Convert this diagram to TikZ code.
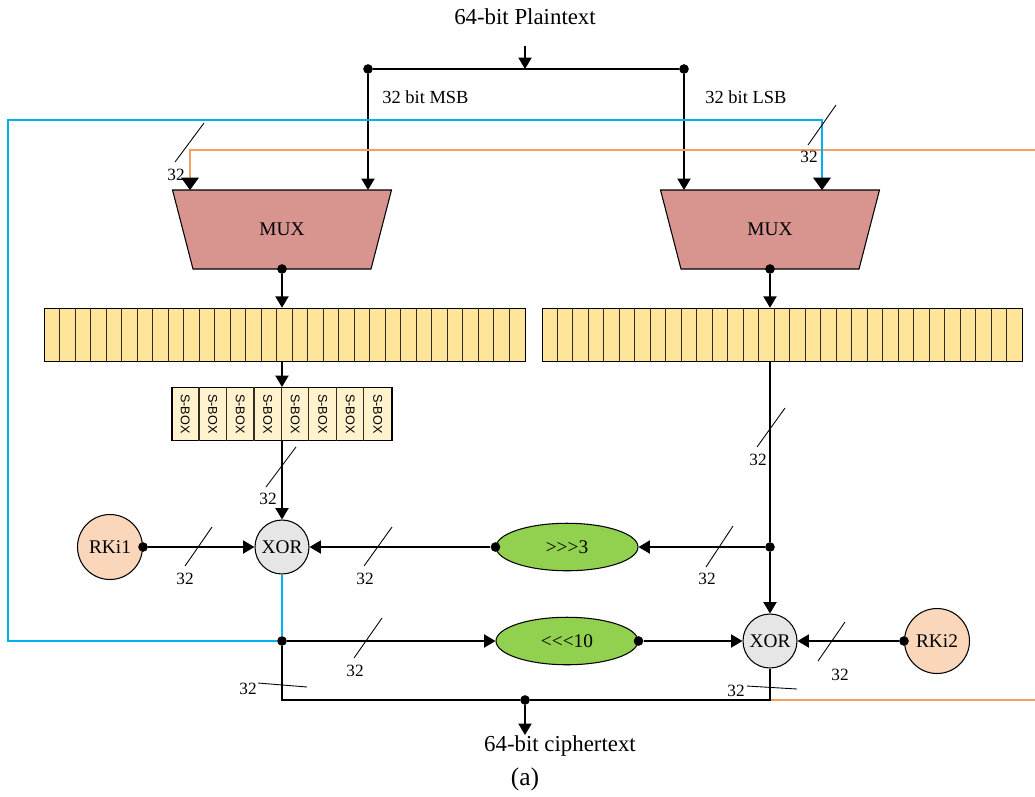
\documentclass[tikz,border=0pt]{standalone}
\usepackage{fontspec}
\setmainfont{Liberation Serif}
\newfontfamily\sboxfont{Liberation Sans}
\usetikzlibrary{shapes.geometric,arrows.meta}

\definecolor{muxred}{RGB}{216,148,143}
\definecolor{regyellow}{RGB}{255,229,153}
\definecolor{sboxyellow}{RGB}{255,242,204}
\definecolor{keypeach}{RGB}{250,215,186}
\definecolor{rotgreen}{RGB}{146,208,80}
\definecolor{xorgray}{RGB}{230,230,230}
\definecolor{fbblue}{RGB}{0,176,240}
\definecolor{fborange}{RGB}{244,160,96}
\definecolor{celldark}{RGB}{50,45,35}

\tikzset{
  sigline/.style={line width=0.8pt},
  wire/.style={sigline, -{Triangle[width=7.5pt,length=6.5pt]}},
  owire/.style={draw=fborange, line width=0.7pt, -{Triangle[width=10pt,length=7pt,color=black]}},
  oline/.style={draw=fborange, line width=0.7pt},
  bwire/.style={draw=fbblue, line width=0.8pt, -{Triangle[width=10pt,length=7pt,color=black]}},
  bline/.style={draw=fbblue, line width=0.8pt},
  junction/.style={circle, fill, inner sep=0pt, minimum size=5.5pt},
  title/.style={font=\fontsize{13}{15}\selectfont},
  lbl/.style={inner sep=0pt, font=\fontsize{10.5}{12}\selectfont},
  mux/.style={draw, line width=0.6pt, fill=muxred, trapezium, trapezium angle=68,
    shape border rotate=180, trapezium stretches=true, minimum width=4.39cm,
    minimum height=1.58cm, inner sep=0pt, font=\fontsize{11}{13}\selectfont},
  reg/.style={draw, line width=0.6pt, fill=regyellow, minimum width=9.62cm,
    minimum height=1.07cm, inner sep=0pt},
  celline/.style={draw=celldark, line width=0.6pt},
  sboxrow/.style={draw, line width=0.6pt, fill=sboxyellow, minimum width=4.4cm,
    minimum height=1.06cm, inner sep=0pt},
  sboxtxt/.style={rotate=-90, inner sep=0pt, font=\sboxfont\fontsize{7.2}{8}\selectfont},
  xorgate/.style={draw, line width=0.6pt, circle, fill=xorgray, minimum size=1.08cm,
    inner sep=0pt, font=\fontsize{11}{13}\selectfont},
  rkey/.style={draw, line width=0.6pt, circle, fill=keypeach, minimum size=1.3cm,
    inner sep=0pt, font=\fontsize{11}{13}\selectfont},
  rotbox/.style={draw, line width=0.6pt, ellipse, fill=rotgreen, minimum width=2.84cm,
    minimum height=0.95cm, inner sep=0pt, font=\fontsize{11}{13}\selectfont},
  busline/.style={line width=0.5pt},
  buslbl/.style={inner sep=0pt, font=\fontsize{9.8}{11}\selectfont}
}

\begin{document}
\begin{tikzpicture}[x=0.02cm, y=-0.02cm]
  \useasboundingbox (0,0) rectangle (1035,796);
  % nodes
  \node[title] (plain) at (525,17) {64-bit Plaintext};
  \coordinate (ptin) at (525,46);
  \coordinate (ptsplit) at (525,69);
  \node[junction] (sL) at (368,69) {};
  \node[junction] (sR) at (684,69) {};
  \node[lbl, anchor=west] (msb) at (382,97) {32 bit MSB};
  \node[lbl, anchor=west] (lsb) at (705,97) {32 bit LSB};
  \node[mux] (muxL) at (282,229.5) {MUX};
  \node[mux] (muxR) at (770,229.5) {MUX};
  \coordinate (muxLa) at (190,190);
  \coordinate (muxLb) at (368,190);
  \coordinate (muxRa) at (684,190);
  \coordinate (muxRb) at (822,190);
  \coordinate (orR) at (1035,150);
  \coordinate (fbL) at (8,120);
  \node[junction] (muxLo) at (282,269) {};
  \node[junction] (muxRo) at (770,269) {};
  \node[reg] (regL) at (285,335) {};
  \node[reg] (regR) at (782.5,335) {};
  \node[sboxrow] (sbrow) at (282,414) {};
  \node[xorgate] (xorL) at (282,547) {XOR};
  \node[rkey] (k1) at (110,547) {RKi1};
  \node[junction] (k1d) at (k1.east) {};
  \node[rotbox] (shr) at (567,547) {{>}{>}{>}3};
  \node[junction] (shrd) at (shr.west) {};
  \node[junction] (rdot) at (770,547) {};
  \node[junction] (fbdot) at (282,641) {};
  \node[rotbox] (shl) at (567,641) {{<}{<}{<}10};
  \node[junction] (shld) at (shl.east) {};
  \node[xorgate] (xorR) at (770,641) {XOR};
  \node[rkey] (k2) at (937,641) {RKi2};
  \node[junction] (k2d) at (k2.west) {};
  \node[junction] (cdot) at (525,700) {};
  \coordinate (orB) at (1035,700);
  \node[title, inner sep=0pt, anchor=north] (cipher) at (560,735) {64-bit ciphertext};
  \node[title, font=\fontsize{14.5}{17}\selectfont] (cap) at (525,779) {(a)};
  % register cells and s-boxes
  \foreach \i in {1,...,30} {
    \draw[celline] ([xshift=\i*0.3103cm]regL.north west) -- ([xshift=\i*0.3103cm]regL.south west);
    \draw[celline] ([xshift=\i*0.3103cm]regR.north west) -- ([xshift=\i*0.3103cm]regR.south west);
  }
  \foreach \i in {1,...,7}
    \draw[celline] ([xshift=\i*0.55cm]sbrow.north west) -- ([xshift=\i*0.55cm]sbrow.south west);
  \foreach \i in {1,...,8}
    \node[sboxtxt] (sb\i) at ([xshift=(\i-0.5)*0.55cm]sbrow.west) {S-BOX};
  % edges
  \draw[sigline] (sL) -- (sR);
  \draw[wire] (ptin) -- (ptsplit);
  \draw[wire] (sL) -- (muxLb);
  \draw[wire] (sR) -- (muxRa);
  \draw[owire] (orR) -| (muxLa);
  \draw[bline] (xorL) -- (fbdot);
  \draw[bwire] (fbdot) -| (fbL) -| (muxRb);
  \draw[wire] (muxLo) -- (regL.north -| muxLo);
  \draw[wire] (muxRo) -- (regR.north -| muxRo);
  \draw[wire] (regL.south -| sbrow.north) -- (sbrow.north);
  \draw[wire] (sbrow.south) -- (xorL);
  \draw[sigline] (regR.south -| rdot) -- (rdot);
  \draw[wire] (rdot) -- (shr);
  \draw[wire] (rdot) -- (xorR);
  \draw[wire] (shrd) -- (xorL);
  \draw[wire] (k1d) -- (xorL);
  \draw[wire] (fbdot) -- (shl);
  \draw[wire] (shld) -- (xorR);
  \draw[wire] (k2d) -- (xorR);
  \draw[oline] (xorR) |- (orB);
  \draw[sigline] (fbdot) |- (cdot) -| (xorR);
  \draw[wire] (cdot) -- (cdot |- cipher.north);
  % bus widths
  \foreach \ax/\ay/\bx/\by/\lx/\ly [count=\n] in {
      175/162/204/123/176/175, 808/145/836/105/809/157,
      266/487/296/447/268/499, 757/447/785/408/758/460,
      185/566/212/527/185/579, 364/566/392/527/365/579,
      706/567/733/526/707/579, 354/658/382/618/355/671,
      818/661/845/622/840/675, 258/683/307/687/248/689,
      747/686/797/689/736/691} {
    \draw[busline] (\ax,\ay) -- (\bx,\by);
    \node[buslbl] (bw\n) at (\lx,\ly) {32};
  }
\end{tikzpicture}
\end{document}
